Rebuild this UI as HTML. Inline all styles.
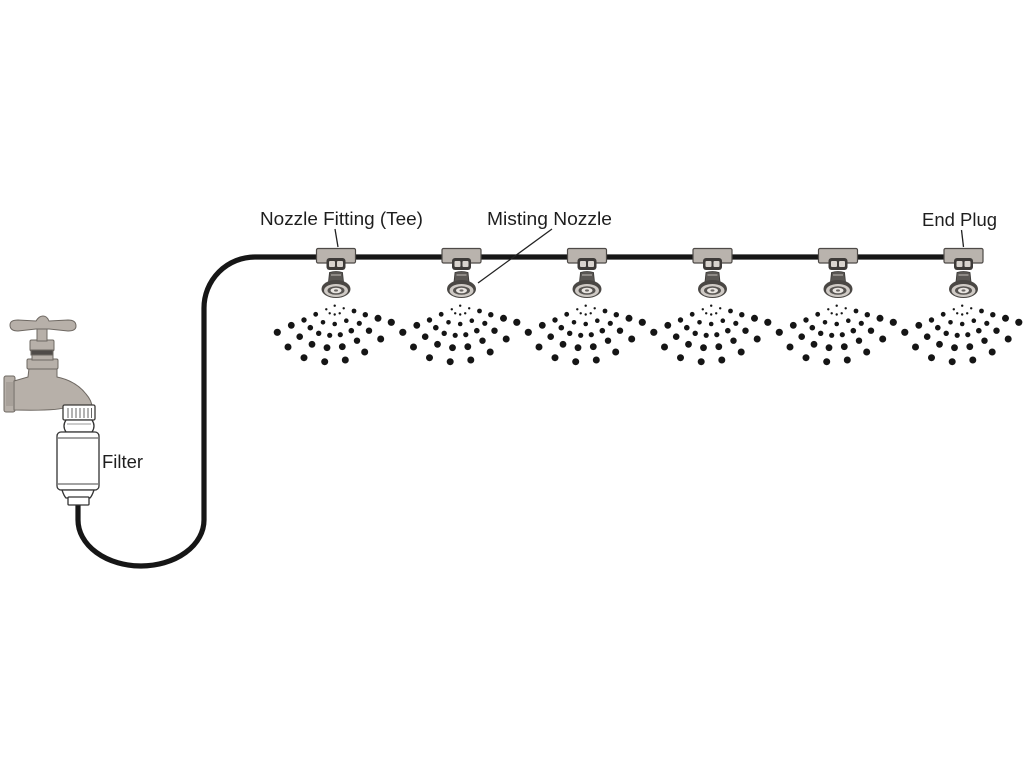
<!DOCTYPE html>
<html><head><meta charset="utf-8"><style>
html,body{margin:0;padding:0;background:#fff;}
svg{display:block;}
text{font-family:"Liberation Sans",sans-serif;fill:#1e1e1e;}
</style></head><body>
<svg width="1024" height="768" viewBox="0 0 1024 768" xmlns="http://www.w3.org/2000/svg">
<defs>
<g id="noz">
  <!-- tee body -->
  <rect x="-19.5" y="248.5" width="39" height="14.5" rx="1.5" fill="#b9b3ad" stroke="#4e4a47" stroke-width="1.2"/>
  <!-- lower outlet -->
  <rect x="-9.5" y="258" width="19" height="12" rx="3" fill="#3e3b39"/>
  <rect x="-7" y="261" width="6" height="6" rx="1" fill="#d8d3ce"/>
  <rect x="1" y="261" width="6" height="6" rx="1" fill="#d8d3ce"/>
  <!-- nozzle cap -->
  <path d="M-6.5 272.5 Q0 270.5 6.5 272.5 L7.5 282 L-7.5 282 Z" fill="#5a5754" stroke="#3a3836" stroke-width="0.8"/>
  <rect x="-5" y="274" width="10" height="2" fill="#8e8a86"/>
  <!-- nozzle body -->
  <ellipse cx="0" cy="289" rx="14.5" ry="9" fill="#4a4744"/>
  <ellipse cx="0" cy="290.5" rx="12" ry="6.5" fill="#cfcac5"/>
  <ellipse cx="0" cy="290.5" rx="8.5" ry="4.3" fill="#575451"/>
  <ellipse cx="0" cy="290.5" rx="5.5" ry="2.8" fill="#e9e5e1"/>
  <ellipse cx="0" cy="290.5" rx="2" ry="1.1" fill="#6a6663"/>
</g>
<g id="spray" fill="#151515">
  <circle cx="-1.3" cy="305.7" r="1.2"/><circle cx="-9.7" cy="309.3" r="1.2"/><circle cx="7.7" cy="308.3" r="1.2"/>
  <circle cx="-6.3" cy="313.3" r="1.2"/><circle cx="-1.3" cy="314.5" r="1.2"/><circle cx="3.7" cy="313.3" r="1.2"/>
  <circle cx="-20.3" cy="314.3" r="2.4"/><circle cx="18" cy="311" r="2.4"/><circle cx="-32" cy="320" r="2.7"/>
  <circle cx="29.3" cy="314.7" r="2.7"/><circle cx="-44.7" cy="325.3" r="3.4"/><circle cx="42" cy="318.3" r="3.5"/>
  <circle cx="-58.7" cy="332.3" r="3.6"/><circle cx="55.3" cy="322.3" r="3.6"/>
  <circle cx="-13" cy="322.3" r="2.3"/><circle cx="-1.3" cy="324" r="2.3"/><circle cx="10.3" cy="320.7" r="2.3"/>
  <circle cx="23.3" cy="323.3" r="2.6"/><circle cx="-25.7" cy="327.7" r="2.8"/><circle cx="15.3" cy="330.7" r="2.8"/>
  <circle cx="-17.3" cy="333.3" r="2.7"/><circle cx="-6.3" cy="335.3" r="2.6"/><circle cx="4.3" cy="334.7" r="2.6"/>
  <circle cx="33" cy="330.7" r="3.2"/><circle cx="-36.3" cy="336.7" r="3.3"/><circle cx="21" cy="340.7" r="3.2"/>
  <circle cx="-24" cy="344.3" r="3.4"/><circle cx="-9" cy="347.7" r="3.4"/><circle cx="6.3" cy="346.7" r="3.4"/>
  <circle cx="44.7" cy="339" r="3.5"/><circle cx="-48" cy="347" r="3.5"/><circle cx="28.7" cy="352" r="3.5"/>
  <circle cx="-32" cy="357.7" r="3.5"/><circle cx="-11.3" cy="361.7" r="3.5"/><circle cx="9.3" cy="360" r="3.5"/>
</g>
</defs>

<!-- hose -->
<path d="M78 503 L78 520 A63 46 0 0 0 204 520 L204 308 A51 51 0 0 1 255 257 L982 257" fill="none" stroke="#161616" stroke-width="5.2"/>

<!-- nozzles -->
<use href="#noz" transform="translate(336,0)"/>
<use href="#noz" transform="translate(461.5,0)"/>
<use href="#noz" transform="translate(587,0)"/>
<use href="#noz" transform="translate(712.5,0)"/>
<use href="#noz" transform="translate(838,0)"/>
<use href="#noz" transform="translate(963.5,0)"/>

<use href="#spray" transform="translate(336,0)"/>
<use href="#spray" transform="translate(461.5,0)"/>
<use href="#spray" transform="translate(587,0)"/>
<use href="#spray" transform="translate(712.5,0)"/>
<use href="#spray" transform="translate(838,0)"/>
<use href="#spray" transform="translate(963.5,0)"/>

<!-- labels -->
<text x="260" y="225" font-size="18" textLength="163" lengthAdjust="spacingAndGlyphs">Nozzle Fitting (Tee)</text>
<text x="487" y="225" font-size="18" textLength="125" lengthAdjust="spacingAndGlyphs">Misting Nozzle</text>
<text x="922" y="226" font-size="18" textLength="75" lengthAdjust="spacingAndGlyphs">End Plug</text>
<text x="102" y="468" font-size="18" textLength="41" lengthAdjust="spacingAndGlyphs">Filter</text>

<!-- leaders -->
<line x1="335" y1="229" x2="338" y2="247" stroke="#222" stroke-width="1.3"/>
<line x1="552" y1="229" x2="478" y2="283" stroke="#222" stroke-width="1.3"/>
<line x1="961.5" y1="230" x2="963.5" y2="247" stroke="#222" stroke-width="1.3"/>

<!-- faucet -->
<g stroke="#6e6862" stroke-width="1" fill="#b7b0a9">
  <!-- inlet flange -->
  <rect x="4" y="376" width="11" height="36" rx="2"/>
  <!-- body -->
  <path d="M14 381 L28 377 L29 368 L57 368 L57 377 Q76 381 86 394 Q92 401 92 407 L66 407 Q60 411 14 410 Z"/>
  <!-- bonnet -->
  <rect x="27" y="359" width="31" height="10" rx="1.5"/>
  <rect x="32" y="355" width="21" height="5"/>
  <!-- packing nut -->
  <rect x="30" y="340" width="24" height="11" rx="1.5"/>
  <rect x="31" y="350" width="22" height="5" fill="#4f4b48"/>
  <!-- stem -->
  <rect x="37" y="329" width="10" height="12"/>
  <!-- handle -->
  <path d="M10 325 Q10 320 18 320 L36 321 Q39 316 43 316 Q47 316 49 321 L68 320 Q76 320 76 326 Q76 331 68 331 L49 329 L36 329 L18 331 Q10 331 10 325 Z"/>
</g>
<rect x="6" y="382" width="7" height="24" fill="#a8a19a"/>

<!-- coupling -->
<rect x="63" y="405" width="32" height="15" rx="1.5" fill="#fff" stroke="#3a3836" stroke-width="1.3"/>
<g stroke="#555" stroke-width="0.9">
  <line x1="68" y1="408" x2="68" y2="418"/><line x1="72" y1="408" x2="72" y2="418"/>
  <line x1="76" y1="408" x2="76" y2="418"/><line x1="80" y1="408" x2="80" y2="418"/>
  <line x1="84" y1="408" x2="84" y2="418"/><line x1="88" y1="408" x2="88" y2="418"/>
  <line x1="91.5" y1="408" x2="91.5" y2="418"/>
</g>
<!-- filter -->
<g fill="#fff" stroke="#333" stroke-width="1.3">
  <path d="M66 420 L92 420 Q96 426 92 432 L66 432 Q62 426 66 420 Z"/>
  <rect x="57" y="432" width="42" height="58" rx="4"/>
  <path d="M62 490 L94 490 Q92 496 90 498 L66 498 Q64 496 62 490 Z"/>
  <rect x="68" y="497" width="21" height="8" rx="1"/>
</g>
<line x1="58" y1="438" x2="98" y2="438" stroke="#444" stroke-width="1"/>
<line x1="58" y1="484" x2="98" y2="484" stroke="#444" stroke-width="1"/>
<line x1="67" y1="424" x2="91" y2="424" stroke="#777" stroke-width="0.8"/>
</svg>
</body></html>
